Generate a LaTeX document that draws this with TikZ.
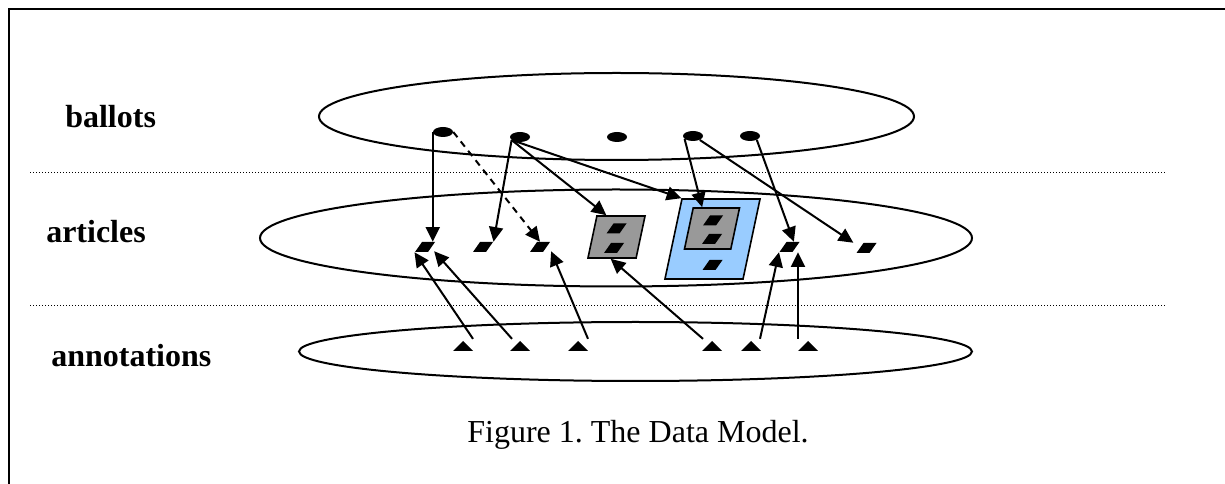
\documentclass[tikz,border=0pt]{standalone}
\usepackage{fontspec}
\setmainfont{Liberation Serif}
\usetikzlibrary{shapes.geometric,arrows.meta,calc}
\definecolor{boxgray}{RGB}{153,153,153}
\definecolor{boxblue}{RGB}{153,204,255}
\begin{document}
\frenchspacing
\begin{tikzpicture}[x=0.75pt,y=-0.75pt,
  layer/.style={draw,ellipse,line width=1.5pt,inner sep=0},
  lbl/.style={font=\fontsize{24}{28}\selectfont\bfseries,anchor=base west,inner sep=0},
  caption/.style={font=\fontsize{24}{28}\selectfont\frenchspacing,anchor=base,inner sep=0},
  ballot/.style={ellipse,fill=black,inner sep=0,minimum width=15pt,minimum height=7.5pt},
  art/.style={trapezium,trapezium left angle=55,trapezium right angle=125,fill=black,inner xsep=2.25pt,inner ysep=3.75pt},
  grp/.style={trapezium,trapezium left angle=78,trapezium right angle=102,draw,line width=1.2pt},
  ann/.style={trapezium,trapezium left angle=45,trapezium right angle=45,fill=black,inner xsep=0pt,inner ysep=3.75pt},
  arr/.style={line width=1.5pt,-{Triangle[length=11pt,width=10.5pt]}},
  sep/.style={line width=0.75pt,dash pattern=on 0.75pt off 1.5pt},
]
\useasboundingbox (0,0) rectangle (1225,484);
% frame
\draw[line width=1.5pt] (9,484) -- (9,9) -- (1225,9);
% separators
\draw[sep] (30,173) -- (1165,173);
\draw[sep] (30,306) -- (1165,306);
% labels
\node[lbl] (tb) at (65,128) {ballots};
\node[lbl] (ta) at (46,243) {articles};
\node[lbl] (tn) at (51,367) {annotations};
\node[caption] (cap) at (638,443) {Figure 1. The Data Model.};
% layers
\node[layer,minimum width=446.25pt,minimum height=65.25pt] (Lb) at (616.5,116.5) {};
\node[layer,minimum width=534pt,minimum height=72.75pt] (La) at (616,238) {};
\node[layer,minimum width=504.75pt,minimum height=44.25pt] (Ln) at (635.5,351.5) {};
% ballots
\node[ballot] (d1) at (443,132) {};
\node[ballot] (d2) at (520,137) {};
\node[ballot] (d3) at (617,137) {};
\node[ballot] (d4) at (693,136) {};
\node[ballot] (d5) at (750,136) {};
% articles
\node[art] (a1) at (425,247) {};
\node[art] (a2) at (483,247) {};
\node[art] (a3) at (540,247) {};
\node[art] (a4) at (789.5,247) {};
\node[art] (a5) at (866.5,248) {};
\node[grp,fill=boxgray,inner xsep=14.7pt,inner ysep=15.75pt] (g1) at (616.5,237) {};
\node[art] (g1a) at (616.5,228.5) {};
\node[art] (g1b) at (614,248) {};
\node[grp,fill=boxblue,inner xsep=22.9pt,inner ysep=30pt] (bb) at (712.5,239) {};
\node[grp,fill=boxgray,inner xsep=14.1pt,inner ysep=15.4pt] (ig) at (712,228.5) {};
\node[art] (iga) at (713,220.5) {};
\node[art] (igb) at (712,239) {};
\node[art] (bbc) at (712.5,265) {};
% annotations
\node[ann] (t1) at (463,346) {};
\node[ann] (t2) at (520,346) {};
\node[ann] (t3) at (578,346) {};
\node[ann] (t4) at (712,346) {};
\node[ann] (t5) at (751,346) {};
\node[ann] (t6) at (808,346) {};
% ballots -> articles
\draw[arr] (d1.west) -- (d1.west |- a1.north);
\draw[arr,dash pattern=on 5pt off 4pt] (d1.east) -- (a3.north);
\draw[arr] (d2.200) -- (a2.top right corner);
\draw[arr] (d2.200) -- (g1.115);
\draw[arr] (d2.200) -- (bb.top left corner);
\draw[arr] (d4.200) -- ($(ig.top left corner)!0.2!(ig.top right corner)$);
\draw[arr] (d4.-30) -- ($(a5.top left corner)+(-10,0)$);
\draw[arr] (d5.-30) -- ($(a4.top left corner)!0.55!(a4.top right corner)$);
% annotations -> articles
\draw[arr] ($(t1.north)+(10,-2)$) -- (a1.bottom left corner);
\draw[arr] ($(t2.north)+(-8,-2)$) -- ($(a1.bottom right corner)+(6,-1)$);
\draw[arr] ($(t3.north)+(10,-2)$) -- ($(a3.bottom right corner)+(8,-1)$);
\draw[arr] ($(t4.north)+(-9,-2)$) -- (g1.255);
\draw[arr] ($(t5.north)+(9,-2)$) -- (a4.bottom left corner);
\draw[arr] ($(t6.north)+(-10,-2)$) coordinate (s6) -- (s6 |- a4.south);
\end{tikzpicture}
\end{document}
